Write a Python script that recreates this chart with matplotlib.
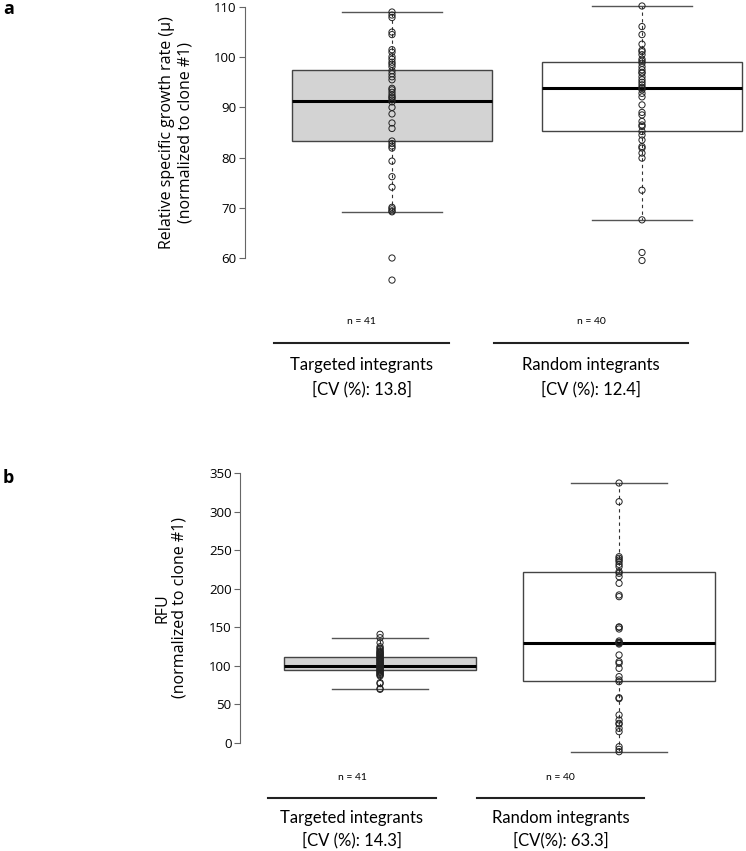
import numpy as np
import matplotlib
matplotlib.use("Agg")
import matplotlib.pyplot as plt
from matplotlib.transforms import blended_transform_factory

plt.rcParams['font.family'] = ['Open Sans', 'DejaVu Sans']

W, H = 746, 851

# ---- panel a: relative specific growth rate ----
growth_targeted = [109.0, 108.4, 107.9, 105.0, 104.5, 101.5, 101.0, 100.1, 99.6, 99.0,
                   98.6, 98.1, 97.3, 96.7, 96.1, 95.5, 93.8, 93.5, 93.0, 92.5,
                   92.1, 91.9, 91.5, 91.1, 90.0, 88.7, 86.9, 85.8, 83.3, 82.8,
                   82.3, 81.9, 79.3, 76.2, 74.1, 70.1, 69.8, 69.4, 69.2, 60.0, 55.6]
growth_random = [110.2, 106.1, 104.5, 102.6, 101.4, 101.1, 100.5, 99.6, 99.2, 98.8,
                 98.1, 97.5, 97.0, 96.8, 96.1, 95.5, 95.0, 94.5, 94.0, 93.8,
                 93.5, 92.8, 92.1, 90.5, 89.0, 88.5, 87.2, 86.5, 86.2, 85.2,
                 84.5, 83.5, 82.2, 81.9, 80.9, 79.9, 73.5, 67.6, 61.1, 59.5]
# box statistics: whislo, q1, median, q3, whishi
growth_box_targeted = [69.2, 83.3, 91.3, 97.5, 109.0]
growth_box_random = [67.6, 85.3, 93.9, 99.0, 110.2]

# ---- panel b: RFU ----
rfu_targeted = [140.9, 136.5, 130.0, 124.8, 123.0, 121.4, 119.5, 118.4, 117.0, 116.3,
                115.0, 114.1, 113.0, 111.9, 110.5, 109.8, 108.5, 107.6, 106.5, 105.4,
                104.0, 103.3, 102.0, 101.1, 100.0, 98.9, 98.0, 96.8, 95.5, 94.6,
                93.5, 92.4, 91.5, 90.3, 89.0, 88.1, 86.9, 78.2, 77.0, 69.6, 70.5]
rfu_random = [337.0, 312.8, 241.5, 239.4, 237.2, 235.1, 231.6, 228.6, 222.1, 220.0,
              215.6, 207.0, 191.9, 189.7, 150.5, 150.0, 147.8, 132.2, 130.5, 130.0,
              129.5, 128.3, 114.1, 105.4, 103.3, 96.8, 86.0, 81.7, 79.5, 58.7,
              57.5, 36.3, 29.8, 25.5, 24.5, 19.0, 14.7, -4.8, -8.2, -11.3]
rfu_box_targeted = [69.6, 94.6, 100.2, 111.9, 136.5]
rfu_box_random = [-11.3, 80.0, 130.0, 221.3, 337.0]

groups = ["Targeted integrants", "Random integrants"]
n_labels = ["n = 41", "n = 40"]
cv_a = ["[CV (%): 13.8]", "[CV (%): 12.4]"]
cv_b = ["[CV (%): 14.3]", "[CV(%): 63.3]"]


def px_axes(fig, x0, y0, x1, y1):
    # pixel box (top-left origin) -> figure fraction axes
    return fig.add_axes([x0 / W, 1 - y1 / H, (x1 - x0) / W, (y1 - y0) / H])


def make_stats(box):
    lo, q1, med, q3, hi = box
    return dict(whislo=lo, q1=q1, med=med, q3=q3, whishi=hi, fliers=[])


def draw_panel(ax, boxes, points, fills, ylim, xlim, ticks, bounds, width):
    stats = [make_stats(b) for b in boxes]
    bp = ax.bxp(stats, positions=[1, 2], widths=width, patch_artist=True,
                showfliers=False,
                boxprops=dict(edgecolor="#444444", linewidth=1.0),
                medianprops=dict(color="black", linewidth=2.2),
                whiskerprops=dict(color="#333333", linewidth=0.8, linestyle=(0, (3, 3))),
                capprops=dict(color="#555555", linewidth=1.0),
                capwidths=width / 2)
    for patch, fc in zip(bp['boxes'], fills):
        patch.set_facecolor(fc)
    for i, vals in enumerate(points):
        ax.scatter(np.full(len(vals), i + 1), vals, s=20, facecolors="none",
                   edgecolors="#222222", linewidths=0.7, zorder=5)
    ax.set_ylim(*ylim)
    ax.set_xlim(*xlim)
    ax.set_yticks(ticks)
    ax.set_xticks([])
    for s in ["top", "right", "bottom"]:
        ax.spines[s].set_visible(False)
    ax.spines["left"].set_bounds(*bounds)
    ax.spines["left"].set_color("#666666")
    ax.tick_params(axis="y", length=4, width=0.8, color="#666666", labelsize=9.5, pad=2)
    ax.patch.set_alpha(0)


def place_ylabel(ax, x_axes, y_data):
    # label centred on the spine range rather than the axes box
    lab = ax.yaxis.label
    lab.set_transform(blended_transform_factory(ax.transAxes, ax.transData))
    lab.set_position((x_axes, y_data))
    ax.yaxis.set_label_position("left")
    ax.yaxis._autolabelpos = False


fig = plt.figure(figsize=(W / 100, H / 100), dpi=100)

# panel a
ax_a = px_axes(fig, 245, 2, 746, 290)
draw_panel(ax_a, [growth_box_targeted, growth_box_random],
           [growth_targeted, growth_random], ["#d3d3d3", "white"],
           ylim=(110 - 283 / 5.02, 110 + 5 / 5.02), xlim=(0.412, 2.416),
           ticks=[60, 70, 80, 90, 100, 110], bounds=(60, 110), width=0.8)
ax_a.set_ylabel("Relative specific growth rate (\u00b5)\n(normalized to clone #1)",
                fontsize=11.5, linespacing=1.15)
place_ylabel(ax_a, (193 - 245) / 501, 85)

# panel b
ax_b = px_axes(fig, 240, 460, 740, 760)
draw_panel(ax_b, [rfu_box_targeted, rfu_box_random],
           [rfu_targeted, rfu_random], ["#d3d3d3", "white"],
           ylim=(0 - 17 / 0.7714, 350 + 13 / 0.7714), xlim=(0.414, 2.506),
           ticks=[0, 50, 100, 150, 200, 250, 300, 350], bounds=(0, 350), width=0.8)
ax_b.set_ylabel("RFU\n(normalized to clone #1)", fontsize=11.5, linespacing=1.15)
place_ylabel(ax_b, (188 - 240) / 500, 175)

# group labels under each panel
lab_font = ['Lato', 'DejaVu Sans']
rows = [
    (322, 343, 365, 389, [(274, 449), (494, 688)], cv_a),
    (777, 798, 818, 840, [(268, 436), (477, 644)], cv_b),
]
for y_n, y_line, y_g, y_cv, spans, cvs in rows:
    for (x0, x1), n_txt, g_txt, cv_txt in zip(spans, n_labels, groups, cvs):
        xc = (x0 + x1) / 2 / W
        fig.text(xc, 1 - y_n / H, n_txt, ha="center", va="center", fontsize=7.5, family=lab_font)
        fig.add_artist(plt.Line2D([x0 / W, x1 / W], [1 - y_line / H] * 2,
                                  color="#222222", linewidth=1.5))
        fig.text(xc, 1 - y_g / H, g_txt, ha="center", va="center", fontsize=12, family=lab_font)
        fig.text(xc, 1 - y_cv / H, cv_txt, ha="center", va="center", fontsize=12, family=lab_font)

fig.text(3 / W, 1 - 9 / H, "a", fontsize=13, fontweight="bold", va="center", ha="left")
fig.text(3 / W, 1 - 478 / H, "b", fontsize=13, fontweight="bold", va="center", ha="left")

fig.savefig("out.png", dpi=100)
